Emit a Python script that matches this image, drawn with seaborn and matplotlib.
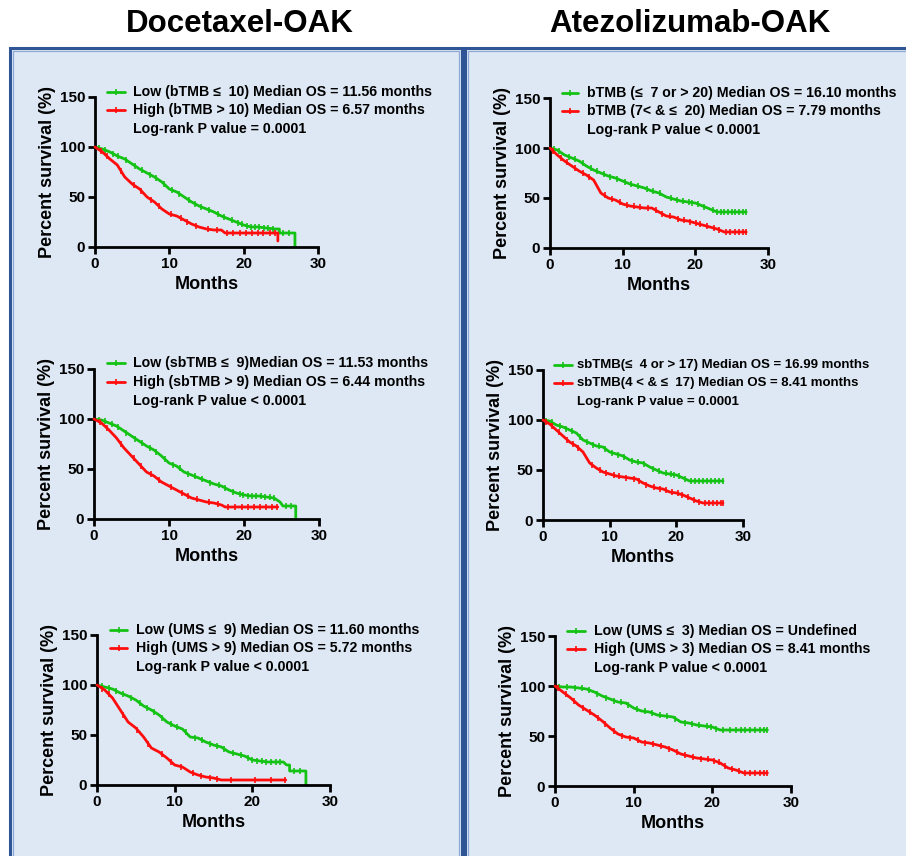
import numpy as np
import pandas as pd
import matplotlib
matplotlib.use("Agg")
import matplotlib.pyplot as plt
import seaborn as sns
from matplotlib.lines import Line2D
from matplotlib.patches import Rectangle

# ---------------- data ----------------
months_monthly = list(range(0, 28))

# Docetaxel-OAK, bTMB
doc_btmb_low_t = [0, 1, 2, 3, 4, 5, 6, 7, 8, 9, 10, 11, 12, 13, 14, 15, 16, 17, 18, 19, 20, 21, 22, 23, 24.2, 24.8, 24.8, 26.9, 26.9]
doc_btmb_low_s = [100, 98, 95, 91, 88, 83, 78, 74, 70, 65, 58, 55, 50, 45, 41, 38, 35, 31, 28, 25, 22, 20, 20, 19, 18, 18, 14, 14, 0]
doc_btmb_high_t = [0, 1, 2, 3, 4, 5, 6, 7, 8, 9, 10, 11, 12, 13, 14, 15, 16, 17, 17.5, 24.6, 24.6]
doc_btmb_high_s = [100, 95, 88, 82, 70, 63, 58, 50, 45, 38, 33, 31, 27, 23, 20, 18, 17, 17, 14, 14, 6]
doc_btmb_low_cens = [0.6, 1.3, 2.4, 3.1, 4.2, 5.4, 6.3, 7.4, 8.2, 9.3, 10.4, 11.3, 12.6, 13.4, 14.3, 15.4, 16.5, 17.3, 18.4, 19.3, 19.8, 20.4, 21.0, 21.5, 22.1, 22.7, 23.3, 23.9, 25.3, 26.1]
doc_btmb_high_cens = [0.8, 1.6, 3.5, 5.2, 6.2, 7.6, 8.6, 10.2, 11.6, 12.4, 13.6, 15.2, 16.4, 17.8, 18.6, 19.5, 20.3, 21.1, 21.9, 22.6, 23.5, 24.2]

# Atezolizumab-OAK, bTMB
ate_btmb_low_s = [100, 98, 93, 90, 87, 82, 78, 75, 72, 70, 67, 64, 62, 60, 57, 55, 51, 49, 47, 46, 45, 42, 39, 36, 36, 36, 36, 36]
ate_btmb_high_s = [100, 93, 87, 82, 77, 73, 68, 55, 50, 48, 44, 42, 41, 40, 40, 36, 32, 31, 28, 27, 25, 23, 21, 19, 16, 16, 16, 16]
ate_btmb_low_cens = [0.5, 1.2, 2.6, 3.4, 4.5, 5.6, 6.5, 7.4, 8.3, 9.2, 10.3, 11.2, 12.1, 13.3, 14.2, 15.1, 16.6, 17.5, 18.3, 19.1, 19.6, 20.3, 21.2, 22.4, 23.0, 23.5, 24.0, 24.5, 25.0, 25.5, 26.0, 26.5, 27.0]
ate_btmb_high_cens = [0.4, 1.5, 2.3, 3.5, 4.6, 5.4, 7.5, 8.6, 9.6, 10.6, 11.5, 12.4, 13.5, 14.6, 15.4, 16.5, 17.6, 18.5, 19.3, 20.1, 20.7, 21.6, 22.5, 23.3, 24.2, 24.8, 25.4, 26.0, 26.6, 27.0]

# Docetaxel-OAK, sbTMB
doc_sbtmb_low_t = [0, 1, 2, 3, 4, 5, 6, 7, 8, 9, 10, 11, 12, 13, 14, 15, 16, 17, 18, 19, 20, 21, 22, 23, 24, 24.8, 25.2, 26.9, 26.9]
doc_sbtmb_low_s = [100, 99, 96, 93, 88, 83, 78, 73, 69, 63, 56, 53, 47, 44, 41, 38, 35, 33, 29, 26, 24, 23, 23, 22, 21, 17, 13, 13, 0]
doc_sbtmb_high_t = [0, 1, 2, 3, 4, 5, 6, 7, 8, 9, 10, 11, 12, 13, 14, 15, 16, 17, 17.5, 24.5]
doc_sbtmb_high_s = [100, 96, 89, 81, 71, 63, 55, 47, 43, 37, 33, 29, 25, 21, 19, 17, 16, 14, 12, 12]
doc_sbtmb_low_cens = [0.6, 1.4, 2.4, 3.2, 4.3, 5.5, 6.4, 7.5, 8.3, 9.4, 10.5, 11.4, 12.5, 13.4, 14.4, 15.5, 16.6, 17.4, 18.5, 19.4, 19.9, 20.5, 21.1, 21.6, 22.2, 22.8, 23.4, 24.0, 25.6, 26.3]
doc_sbtmb_high_cens = [0.8, 1.7, 3.6, 5.3, 6.3, 7.6, 8.7, 10.3, 11.7, 12.5, 13.7, 15.3, 16.5, 17.8, 18.8, 19.7, 20.5, 21.3, 22.1, 22.9, 23.7, 24.4]

# Atezolizumab-OAK, sbTMB
ate_sbtmb_low_s = [100, 99, 95, 93, 90, 87, 80, 77, 74, 73, 68, 66, 64, 60, 58, 57, 53, 50, 47, 46, 45, 42, 39, 39, 39, 39, 39, 39]
ate_sbtmb_high_s = [100, 96, 90, 84, 78, 74, 68, 57, 52, 48, 46, 44, 43, 42, 41, 37, 34, 32, 31, 28, 27, 25, 22, 19, 17, 17, 17, 17]
ate_sbtmb_low_cens = [0.5, 1.3, 2.5, 3.5, 4.4, 5.5, 6.6, 7.5, 8.4, 9.3, 10.4, 11.3, 12.2, 13.4, 14.3, 15.2, 16.5, 17.4, 18.4, 19.2, 19.7, 20.4, 21.3, 22.2, 22.8, 23.4, 24.0, 24.6, 25.2, 25.8, 26.4, 27.0]
ate_sbtmb_high_cens = [0.4, 1.4, 2.4, 3.6, 4.5, 5.3, 7.4, 8.5, 9.5, 10.6, 11.4, 12.5, 13.6, 14.4, 15.5, 16.6, 17.5, 18.4, 19.4, 20.2, 20.8, 21.7, 22.6, 23.4, 24.3, 24.9, 25.5, 26.1, 26.7, 27.0]

# Docetaxel-OAK, UMS
doc_ums_low_t = [0, 1, 2, 3, 4, 5, 6, 7, 8, 9, 10, 11, 12, 13, 14, 15, 16, 17, 18, 19, 20, 21, 22, 23, 24, 24.4, 24.8, 24.8, 26.9, 26.9]
doc_ums_low_s = [100, 98, 96, 92, 89, 85, 79, 75, 70, 63, 59, 56, 48, 47, 43, 40, 38, 33, 31, 29, 25, 24, 23, 23, 23, 20, 20, 14, 14, 0]
doc_ums_high_t = [0, 1, 2, 3, 4, 5, 6, 7, 8, 9, 10, 11, 12, 13, 14, 15, 16, 24.3]
doc_ums_high_s = [100, 95, 87, 75, 63, 57, 48, 37, 33, 27, 20, 18, 13, 10, 8, 7, 5, 5]
doc_ums_low_cens = [0.6, 1.5, 2.5, 3.3, 4.4, 5.5, 6.4, 7.3, 8.4, 9.5, 10.3, 11.4, 12.6, 13.5, 14.5, 15.4, 16.3, 17.5, 18.5, 19.4, 20.0, 20.6, 21.2, 21.8, 22.4, 23.0, 23.6, 25.4, 26.2]
doc_ums_high_cens = [0.7, 1.5, 3.4, 5.2, 6.6, 8.4, 9.5, 10.8, 12.4, 13.4, 14.5, 15.5, 17.2, 20.3, 22.4, 24.2]

# Atezolizumab-OAK, UMS
ate_ums_low_s = [100, 99, 99, 98, 97, 94, 90, 87, 84, 83, 78, 75, 74, 71, 70, 69, 64, 63, 61, 60, 59, 56, 56, 56, 56, 56, 56, 56]
ate_ums_high_s = [100, 94, 88, 81, 76, 71, 65, 58, 52, 49, 48, 44, 43, 41, 39, 36, 32, 30, 28, 27, 26, 23, 18, 16, 13, 13, 13, 13]
ate_ums_low_cens = [0.5, 1.5, 2.5, 3.4, 4.3, 5.4, 6.5, 7.5, 8.4, 9.3, 10.4, 11.4, 12.3, 13.4, 14.3, 15.3, 16.5, 17.4, 18.3, 19.3, 19.8, 20.5, 21.4, 22.3, 23.0, 23.6, 24.2, 24.8, 25.4, 26.0, 26.6, 27.0]
ate_ums_high_cens = [0.4, 1.4, 2.4, 3.5, 4.4, 5.5, 6.4, 7.5, 8.5, 9.5, 10.5, 11.5, 12.5, 13.5, 14.5, 15.5, 16.5, 17.5, 18.5, 19.4, 20.2, 20.8, 21.6, 22.5, 23.4, 24.2, 24.8, 25.4, 26.0, 26.6, 27.0]

# text
titles = ["Docetaxel-OAK", "Atezolizumab-OAK"]
x_ticks = [0, 10, 20, 30]
y_ticks = [0, 50, 100, 150]
legend_texts = [
    ["Low (bTMB \u2264  10) Median OS = 11.56 months", "High (bTMB > 10) Median OS = 6.57 months", "Log-rank P value = 0.0001"],
    ["bTMB (\u2264  7 or > 20) Median OS = 16.10 months", "bTMB (7< & \u2264  20) Median OS = 7.79 months", "Log-rank P value < 0.0001"],
    ["Low (sbTMB \u2264  9)Median OS = 11.53 months", "High (sbTMB > 9) Median OS = 6.44 months", "Log-rank P value < 0.0001"],
    ["sbTMB(\u2264  4 or > 17) Median OS = 16.99 months", "sbTMB(4 < & \u2264  17) Median OS = 8.41 months", "Log-rank P value = 0.0001"],
    ["Low (UMS \u2264  9) Median OS = 11.60 months", "High (UMS > 9) Median OS = 5.72 months", "Log-rank P value < 0.0001"],
    ["Low (UMS \u2264  3) Median OS = Undefined", "High (UMS > 3) Median OS = 8.41 months", "Log-rank P value < 0.0001"],
]

# ---------------- style ----------------
sns.set_theme(style="white")
plt.rcParams["font.family"] = ["Liberation Sans", "DejaVu Sans"]
plt.rcParams["font.weight"] = "bold"
plt.rcParams["text.color"] = "black"
plt.rcParams["axes.labelcolor"] = "black"
plt.rcParams["xtick.color"] = "black"
plt.rcParams["ytick.color"] = "black"

W, H = 906, 856
fig = plt.figure(figsize=(W / 100, H / 100), dpi=100)
fig.patch.set_facecolor("white")

GREEN = "#14c214"
RED = "#ff0d0d"
PANEL_BG = "#dde8f4"
BORDER = "#2f5597"
MS = 5
MEW = 1.2


def fx(x):
    return x / W


def fy(y):
    return 1 - y / H


# panel backgrounds
for (x0, x1) in [(10, 462), (465, 925)]:
    fig.add_artist(Rectangle((fx(x0), fy(880)), fx(x1) - fx(x0), fy(48) - fy(880),
                             transform=fig.transFigure, facecolor=PANEL_BG,
                             edgecolor=BORDER, lw=2.2, zorder=-2))
    fig.add_artist(Rectangle((fx(x0 + 2.5), fy(880)), fx(x1 - 2.5) - fx(x0 + 2.5), fy(50.5) - fy(880),
                             transform=fig.transFigure, facecolor="none",
                             edgecolor="#8fa9d6", lw=0.9, zorder=-1))

fig.text(fx(240), fy(24), titles[0], ha="center", va="center", fontsize=22.5, fontweight="bold", color="black")
fig.text(fx(690), fy(24), titles[1], ha="center", va="center", fontsize=22.5, fontweight="bold", color="black")

panels = [
    dict(box=(95, 318, 97, 247), low=(doc_btmb_low_t, doc_btmb_low_s, doc_btmb_low_cens),
         high=(doc_btmb_high_t, doc_btmb_high_s, doc_btmb_high_cens),
         leg=(107, 125, 133, [92, 110, 129]), fs=10.2),
    dict(box=(550, 768, 98, 248), low=(months_monthly, ate_btmb_low_s, ate_btmb_low_cens),
         high=(months_monthly, ate_btmb_high_s, ate_btmb_high_cens),
         leg=(562, 578, 587, [93, 111, 130]), fs=10.2),
    dict(box=(94, 319, 369, 519), low=(doc_sbtmb_low_t, doc_sbtmb_low_s, doc_sbtmb_low_cens),
         high=(doc_sbtmb_high_t, doc_sbtmb_high_s, doc_sbtmb_high_cens),
         leg=(107, 125, 133, [363, 382, 401]), fs=10.2),
    dict(box=(543, 743, 370, 520), low=(months_monthly, ate_sbtmb_low_s, ate_sbtmb_low_cens),
         high=(months_monthly, ate_sbtmb_high_s, ate_sbtmb_high_cens),
         leg=(554, 572, 577, [365, 383, 402]), fs=9.5),
    dict(box=(97, 330, 635, 785), low=(doc_ums_low_t, doc_ums_low_s, doc_ums_low_cens),
         high=(doc_ums_high_t, doc_ums_high_s, doc_ums_high_cens),
         leg=(110, 127, 136, [630, 648, 667]), fs=10.2),
    dict(box=(555, 791, 636, 786), low=(months_monthly, ate_ums_low_s, ate_ums_low_cens),
         high=(months_monthly, ate_ums_high_s, ate_ums_high_cens),
         leg=(567, 585, 594, [631, 649, 668]), fs=10.2),
]

for i, p in enumerate(panels):
    x0, x1, y1, y0 = p["box"]
    ax = fig.add_axes([fx(x0), fy(y0), fx(x1) - fx(x0), fy(y1) - fy(y0)])
    ax.patch.set_alpha(0)
    for key, col in (("low", GREEN), ("high", RED)):
        t, s, cens = p[key]
        df = pd.DataFrame({"Months": t, "Survival": s})
        z = 3 if key == "high" else 2
        sns.lineplot(data=df, x="Months", y="Survival", ax=ax, color=col, lw=2,
                     estimator=None, sort=False, clip_on=False, zorder=z)
        cy = np.interp(cens, np.asarray(t, float), np.asarray(s, float))
        ax.plot(cens, cy, linestyle="none", marker="|", ms=MS, mew=MEW, color=col, clip_on=False,
                zorder=z)
    ax.set_xlim(0, 30)
    ax.set_ylim(0, 150)
    ax.set_xticks(x_ticks)
    ax.set_yticks(y_ticks)
    for side in ("top", "right"):
        ax.spines[side].set_visible(False)
    for side in ("left", "bottom"):
        ax.spines[side].set_color("black")
        ax.spines[side].set_linewidth(2)
    ax.tick_params(axis="both", direction="out", length=5, width=2, colors="black",
                   labelsize=11, left=True, bottom=True, pad=2)
    for lab in ax.get_xticklabels() + ax.get_yticklabels():
        lab.set_fontweight("bold")
        lab.set_color("black")
    ax.set_xlabel("Months", fontsize=13, fontweight="bold", labelpad=4, color="black")
    ax.set_ylabel("Percent survival (%)", fontsize=13, fontweight="bold", labelpad=3, color="black")

    hx0, hx1, tx, rows = p["leg"]
    for r, col in zip(rows[:2], (GREEN, RED)):
        fig.add_artist(Line2D([fx(hx0), fx(hx1)], [fy(r), fy(r)], color=col, lw=2,
                              transform=fig.transFigure))
        fig.add_artist(Line2D([fx((hx0 + hx1) / 2)], [fy(r)], color=col, marker="|", ms=MS, mew=MEW,
                              linestyle="none", transform=fig.transFigure))
    for r, txt in zip(rows, legend_texts[i]):
        fig.text(fx(tx), fy(r), txt, ha="left", va="center", fontsize=p["fs"],
                 fontweight="bold", color="black")

fig.savefig("out.png", dpi=100, facecolor="white")
